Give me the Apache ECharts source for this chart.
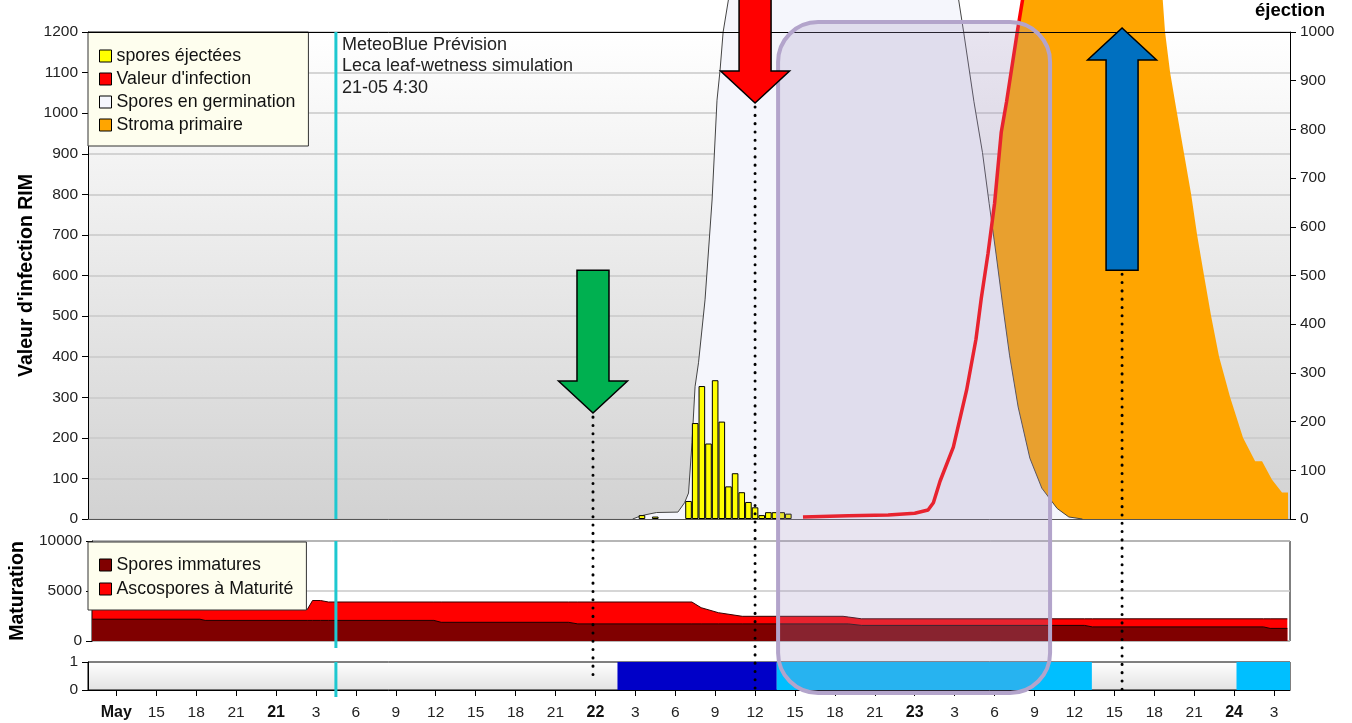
<!DOCTYPE html>
<html><head><meta charset="utf-8">
<script src="https://cdn.jsdelivr.net/npm/echarts@6/dist/echarts.min.js"></script>
<style>html,body{margin:0;padding:0;background:#fff}#c{width:1352px;height:723px}</style>
</head><body><div id="c"></div>
<script>
// ---------- DATA (hours counted from 21 May 00:00) ----------
const sporeHours  = [27.5, 28.5, 31.0, 31.5, 32.0, 32.5, 33.0, 33.5, 34.0, 34.5, 35.0, 35.5, 36.0, 36.5, 37.0, 37.5, 38.0, 38.5];
const sporeValues = [8, 5, 37, 197, 273, 155, 285, 200, 67, 94, 55, 35, 24, 8, 14, 14, 14, 11];

const infectionHours  = [39.6, 43.0, 46.0, 48.0, 49.0, 49.4, 49.9, 50.9, 51.9, 52.6, 53.0, 53.5, 54.0, 54.5, 54.9, 55.7, 56.1, 56.6];
const infectionValues = [5, 8, 10, 14, 22, 40, 93, 177, 318, 443, 544, 653, 778, 953, 1028, 1199, 1279, 1400];

const germHours  = [26.8, 27.2, 27.7, 28.6, 30.2, 30.7, 31.0, 31.26, 31.49, 31.75, 32.24, 32.77, 33.14, 33.37, 33.6, 34.0, 34.5, 50.9, 51.3, 51.68, 52.45, 53.09, 53.59, 54.11, 54.61, 55.13, 55.77, 56.65, 57.55, 58.7, 59.58, 60.6];
const germValues = [0, 5, 10, 16, 17, 40, 64, 188, 326, 385, 540, 786, 1032, 1106, 1200, 1280, 1450, 1450, 1279, 1199, 1028, 903, 778, 653, 527, 402, 276, 150, 76, 26, 5, 0];

const stromaHours  = [50.9, 51.9, 52.6, 53.0, 53.5, 54.0, 54.5, 54.9, 55.75, 56.15, 56.6, 66.3, 66.59, 66.81, 67.19, 67.71, 68.24, 68.77, 69.22, 69.74, 70.27, 70.87, 71.7, 72.67, 73.58, 74.1, 74.85, 75.6, 76.05];
const stromaValues = [0, 318, 443, 544, 653, 778, 953, 1028, 1199, 1279, 1450, 1450, 1300, 1200, 1100, 1000, 900, 800, 700, 600, 500, 400, 300, 200, 142, 142, 97, 65, 65];

const matHours       = [-14.1, -6.0, -5.6, 2.1, 2.5, 3.1, 3.7, 11.65, 12.2, 21.8, 22.5, 31.1, 31.8, 33.1, 34.9, 42.5, 42.9, 43.9, 60.7, 61.3, 74.2, 74.7, 76.0];
const immatureValues = [2180, 2180, 2060, 2060, 2060, 2060, 2060, 2060, 1870, 1870, 1710, 1710, 1710, 1710, 1710, 1710, 1710, 1560, 1560, 1410, 1410, 1260, 1260];
const matureValues   = [970, 970, 1090, 1090, 1990, 1990, 1840, 1840, 2030, 2030, 2190, 2190, 1620, 1120, 760, 760, 690, 660, 660, 810, 810, 960, 960];

const wetStart = [25.66, 37.63, 72.18];
const wetEnd   = [37.63, 61.31, 76.2];
const wetLevel = [2, 1, 1];

const tickHours = [-12,-9,-6,-3,0,3,6,9,12,15,18,21,24,27,30,33,36,39,42,45,48,51,54,57,60,63,66,69,72,75];
const dayLabels = {'-12':'May','0':'21','24':'22','48':'23','72':'24'};

const forecastHour = 4.5;
const forecastLines = ['MeteoBlue Prévision', 'Leca leaf-wetness simulation', '21-05 4:30'];

const arrowHours      = [23.82, 36.0, 63.58];
const arrowTipValues  = [261, 1025, 1210];
const arrowTailValues = [613, 1450, 613];

const highlightHours = [37.73, 58.17];

// ---------- CHART ----------
const FONT = 'Liberation Sans';
const xMin = -14.13, xMax = 76.2;
const zip = (a, b) => a.map((v, i) => [v, b[i]]);
const totalValues = immatureValues.map((v, i) => v + matureValues[i]); // top of the mature layer
const chart = echarts.init(document.getElementById('c'), null, {renderer: 'canvas'});

const hiddenX = (g) => ({type:'value', gridIndex:g, min:xMin, max:xMax,
  axisLabel:{show:false}, axisTick:{show:false}, splitLine:{show:false}, axisLine:{show:false, onZero:false}});

const axisLab = {fontFamily: FONT, fontSize: 15.5, color: '#222', margin: 10, formatter: (v) => String(v)};
const tick = {show:true, length:6, lineStyle:{color:'#000'}};
const yLine = {show:true, onZero:false, lineStyle:{color:'#000'}};
const nameStyle = {fontFamily: FONT, fontWeight:'bold', fontSize: 19.5, color:'#000'};

const option = {
  animation: false,
  textStyle: {fontFamily: FONT},
  grid: [
    {left:88, right:62, top:32, height:487, show:true, borderWidth:0,
     backgroundColor:{type:'linear', x:0, y:0, x2:0, y2:1, colorStops:[{offset:0,color:'#ffffff'},{offset:1,color:'#d2d2d2'}]}},
    {left:88, right:62, top:541, height:100, show:true, borderColor:'#000', borderWidth:1, backgroundColor:'#fff'},
    {left:88, right:62, top:662, height:28, show:true, borderColor:'#000', borderWidth:1,
     backgroundColor:{type:'linear', x:0, y:0, x2:0, y2:1, colorStops:[{offset:0,color:'#ffffff'},{offset:1,color:'#e2e2e2'}]}}
  ],
  xAxis: [
    Object.assign(hiddenX(0), {axisLine:{show:true, onZero:false, lineStyle:{color:'#555'}}}),
    hiddenX(1),
    {type:'value', gridIndex:2, min:xMin, max:xMax,
     axisLine:{show:true, onZero:false, lineStyle:{color:'#000'}},
     axisTick:{show:true, length:6, lineStyle:{color:'#000'}, customValues: tickHours},
     splitLine:{show:false},
     axisLabel:{show:true, customValues: tickHours, fontFamily:FONT, fontSize:15.5, color:'#222', margin:15,
       formatter: (v) => { const k = Math.round(v); if (dayLabels[String(k)]) return '{b|' + dayLabels[String(k)] + '}'; return String(((k % 24) + 24) % 24); },
       rich: {b: {fontFamily:FONT, fontWeight:'bold', fontSize:16, color:'#111'}}}},
    Object.assign(hiddenX(0), {position:'top', z:10, axisLine:{show:true, onZero:false, lineStyle:{color:'#000'}}})
  ],
  yAxis: [
    {type:'value', gridIndex:0, min:0, max:1200, interval:100, position:'left',
     axisLine:yLine, axisTick:tick, axisLabel:axisLab,
     splitLine:{show:true, lineStyle:{color:'#c9c9c9', width:1.5}},
     name:"Valeur d'infection RIM", nameLocation:'middle', nameGap:51, nameMoveOverlap:false, nameTextStyle:nameStyle},
    {type:'value', gridIndex:0, min:0, max:1000, interval:100, position:'right',
     axisLine:yLine, axisTick:tick, axisLabel:axisLab,
     splitLine:{show:false},
     name:'éjection', nameLocation:'end', nameGap:12, nameTextStyle:Object.assign({}, nameStyle, {fontSize:18.5})},
    {type:'value', gridIndex:1, min:0, max:10000, interval:5000, position:'left',
     axisLine:yLine, axisTick:tick, axisLabel:axisLab,
     splitLine:{show:true, lineStyle:{color:'#c9c9c9', width:1.5}},
     name:'Maturation', nameLocation:'middle', nameGap:58, nameTextStyle:nameStyle},
    {type:'value', gridIndex:2, min:0, max:1, interval:1, position:'left',
     axisLine:yLine, axisTick:tick, axisLabel:axisLab,
     splitLine:{show:false}}
  ],
  legend: [
    {left:88, top:32, orient:'vertical', icon:'rect', itemWidth:12, itemHeight:12, itemGap:3,
     padding:[14,13,11,11], backgroundColor:'#fefeee', borderColor:'#333', borderWidth:1,
     selectedMode:false, textStyle:{fontFamily:FONT, fontSize:17.8, color:'#111', lineHeight:20},
     itemStyle:{borderColor:'#000', borderWidth:1},
     data:['spores éjectées', "Valeur d'infection", 'Spores en germination', 'Stroma primaire']},
    {left:88, top:542, orient:'vertical', icon:'rect', itemWidth:12, itemHeight:12, itemGap:4,
     padding:[13,13,11,11], backgroundColor:'#fefeee', borderColor:'#333', borderWidth:1,
     selectedMode:false, textStyle:{fontFamily:FONT, fontSize:17.8, color:'#111', lineHeight:20},
     itemStyle:{borderColor:'#000', borderWidth:1},
     data:['Spores immatures', 'Ascospores à Maturité']}
  ],
  series: [
    {type:'line', name:'Stroma primaire', xAxisIndex:0, yAxisIndex:0, data:zip(stromaHours, stromaValues),
     symbol:'none', clip:false, z:2, itemStyle:{color:'#ffa500'},
     lineStyle:{width:0, color:'#ffa500'}, areaStyle:{color:'#ffa500', opacity:1}},
    {type:'line', name:'Spores en germination', xAxisIndex:0, yAxisIndex:0, data:zip(germHours, germValues),
     symbol:'none', clip:false, z:3, itemStyle:{color:'#f5f6fc'},
     lineStyle:{width:1, color:'#444'}, areaStyle:{color:'#f5f6fc', opacity:1}},
    {type:'bar', name:'spores éjectées', xAxisIndex:0, yAxisIndex:1, data:zip(sporeHours, sporeValues),
     barWidth:6.6, z:4, itemStyle:{color:'#ffff00', borderColor:'#000', borderWidth:1}},
    {type:'line', name:"Valeur d'infection", xAxisIndex:0, yAxisIndex:0, data:zip(infectionHours, infectionValues),
     symbol:'none', clip:false, z:5, itemStyle:{color:'#ff0000'}, lineStyle:{width:3.5, color:'#ff0000'}},
    {type:'line', name:'Ascospores à Maturité', xAxisIndex:1, yAxisIndex:2, data:zip(matHours, totalValues),
     symbol:'none', z:2, itemStyle:{color:'#ff0000'},
     lineStyle:{width:1, color:'#330000'}, areaStyle:{color:'#ff0000', opacity:1}},
    {type:'line', name:'Spores immatures', xAxisIndex:1, yAxisIndex:2, data:zip(matHours, immatureValues),
     symbol:'none', z:3, itemStyle:{color:'#800000'},
     lineStyle:{width:1, color:'#1a0000'}, areaStyle:{color:'#800000', opacity:1}},
    {type:'custom', name:'humectation', xAxisIndex:2, yAxisIndex:3,
     data: wetStart.map((s, i) => [s, wetEnd[i], wetLevel[i]]),
     encode:{x:[0,1], y:2},
     renderItem: (params, api) => {
       const p0 = api.coord([api.value(0), 1]);
       const p1 = api.coord([api.value(1), 0]);
       return {type:'rect', shape:{x:p0[0], y:p0[1], width:p1[0]-p0[0], height:p1[1]-p0[1]},
               style:{fill: api.value(2) === 2 ? '#0000c8' : '#00bfff'}};
     }}
  ]
};
chart.setOption(option);

// ---------- annotations placed through the axes ----------
const px = (h, v, yi, xi) => chart.convertToPixel({xAxisIndex: xi || 0, yAxisIndex: yi || 0}, [h, v]);
const mainTop = px(0, 1200)[1], mainBot = px(0, 0)[1];
const g1Top = px(0, 10000, 2, 1)[1], g1Bot = px(0, 0, 2, 1)[1];
const g2Top = px(0, 1, 3, 2)[1], g2Bot = px(0, 0, 3, 2)[1];
const cx = px(forecastHour, 0)[0];
const cyan = '#1ec8d0';
const gr = [];
[[mainTop, mainBot], [g1Top, g1Bot + 7], [g2Top, g2Bot + 7]].forEach(([a, b]) => {
  gr.push({type:'line', z:30, silent:true, shape:{x1:cx, y1:a, x2:cx, y2:b}, style:{stroke:cyan, lineWidth:3}});
});
gr.push({type:'text', z:30, silent:true, x:cx + 6, y:mainTop + 2,
  style:{text: forecastLines.join('\n'), font:'18px "Liberation Sans"', fill:'#222', lineHeight:21.5, verticalAlign:'top'}});

// dotted guide lines
const arrowColors = ['#00b050', '#ff0000', '#0070c0'];
const dotEnds = [g2Top + 19, g2Bot + 6, g2Bot + 6];
arrowHours.forEach((h, i) => {
  const tip = px(h, arrowTipValues[i]);
  const tail = px(h, arrowTailValues[i]);
  const startY = tail[1] > tip[1] ? tail[1] : tip[1];
  gr.push({type:'line', z:40, silent:true, shape:{x1:tip[0], y1:startY + 4, x2:tip[0], y2:dotEnds[i]},
    style:{stroke:'#000', lineWidth:3, lineDash:[0.1, 8.2], lineCap:'round'}});
});

// highlight overlay
const hx0 = px(highlightHours[0], 0)[0], hx1 = px(highlightHours[1], 0)[0];
gr.push({type:'rect', z:50, silent:true, shape:{x:hx0, y:mainTop - 10, width:hx1 - hx0, height:(g2Bot + 3) - (mainTop - 10), r:40},
  style:{fill:'rgba(161,145,194,0.245)', stroke:'#b3a4cb', lineWidth:4}});

// arrows
arrowHours.forEach((h, i) => {
  const tip = px(h, arrowTipValues[i]);
  const tail = px(h, arrowTailValues[i]);
  const tx = tip[0], ty = tip[1], ly = tail[1];
  const d = ly < ty ? -1 : 1; // -1: arrow points down
  const hh = 32, hw = 34.5, sw = 16;
  const pts = [[tx - sw, ly], [tx + sw, ly], [tx + sw, ty + d * hh], [tx + hw, ty + d * hh], [tx, ty], [tx - hw, ty + d * hh], [tx - sw, ty + d * hh]];
  gr.push({type:'polygon', z:60, silent:true, shape:{points:pts}, style:{fill:arrowColors[i], stroke:'#000', lineWidth:1.5}});
});
chart.setOption({graphic: gr});
</script></body></html>
